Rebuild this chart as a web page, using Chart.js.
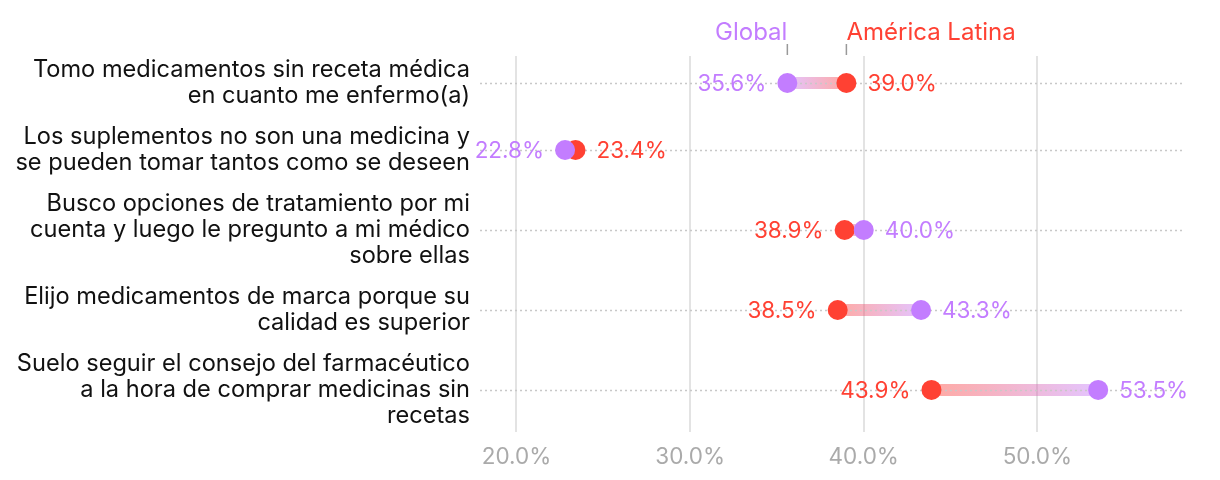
<!DOCTYPE html>
<html>
<head>
<meta charset="utf-8">
<script src="https://cdn.jsdelivr.net/npm/chart.js@4"></script>
<style>
  html, body { margin: 0; padding: 0; background: #fff; }
  #wrap { width: 1220px; height: 480px; }
</style>
</head>
<body>
<div id="wrap"><canvas id="grafico"></canvas></div>
<script>
// ================== DATOS ==================
const categorias = [
    ['Tomo medicamentos sin receta médica', 'en cuanto me enfermo(a)'],
    ['Los suplementos no son una medicina y', 'se pueden tomar tantos como se deseen'],
    ['Busco opciones de tratamiento por mi', 'cuenta y luego le pregunto a mi médico', 'sobre ellas'],
    ['Elijo medicamentos de marca porque su', 'calidad es superior'],
    ['Suelo seguir el consejo del farmacéutico', 'a la hora de comprar medicinas sin', 'recetas']
];
const valoresGlobal = [35.6, 22.8, 40.0, 43.3, 53.5];
const valoresLatam = [39.0, 23.4, 38.9, 38.5, 43.9];
const ticksX = [20, 30, 40, 50];

const MORADO = '#C37DFF';
const ROJO = '#FF4133';
const FUENTE = 'Inter, "Noto Sans", sans-serif';
const TAM = 22.5;
const TAM_ETIQ = 23.6;

// cada fila ocupa tantas lineas como su etiqueta, mas un hueco
const HUECO = 0.58;
const posFilas = [];
let acumulado = 0;
categorias.forEach(c => {
    const alto = c.length + HUECO;
    posFilas.push(acumulado + alto / 2);
    acumulado += alto;
});

// ================== PLUGINS ==================
// linea con degradado entre los dos puntos
const lineasPlugin = {
    id: 'lineas',
    beforeDatasetsDraw(chart) {
        const { ctx, scales: { x, y } } = chart;
        ctx.save();
        ctx.lineWidth = 12;
        valoresGlobal.forEach((g, i) => {
            const l = valoresLatam[i];
            const xg = x.getPixelForValue(g);
            const xl = x.getPixelForValue(l);
            const py = y.getPixelForValue(posFilas[i]);
            const grad = ctx.createLinearGradient(xl, 0, xg, 0);
            grad.addColorStop(0, 'rgba(255,65,51,0.45)');
            grad.addColorStop(1, 'rgba(195,125,255,0.45)');
            ctx.strokeStyle = grad;
            ctx.beginPath();
            ctx.moveTo(xl, py);
            ctx.lineTo(xg, py);
            ctx.stroke();
        });
        ctx.restore();
    },
    afterDatasetsDraw(chart) {
        const { ctx, scales: { x, y } } = chart;
        ctx.save();
        ctx.font = TAM + 'px ' + FUENTE;
        ctx.textBaseline = 'middle';
        valoresGlobal.forEach((g, i) => {
            const l = valoresLatam[i];
            const py = y.getPixelForValue(posFilas[i]) + 1;
            const globalIzq = g < l;
            // etiqueta global
            ctx.fillStyle = MORADO;
            ctx.textAlign = globalIzq ? 'right' : 'left';
            ctx.fillText(g.toFixed(1) + '%', x.getPixelForValue(g) + (globalIzq ? -21 : 21), py);
            // etiqueta latam
            ctx.fillStyle = ROJO;
            ctx.textAlign = globalIzq ? 'left' : 'right';
            ctx.fillText(l.toFixed(1) + '%', x.getPixelForValue(l) + (globalIzq ? 21 : -21), py);
        });

        // leyenda de arriba, pegada a la primera fila
        const xg0 = x.getPixelForValue(valoresGlobal[0]);
        const xl0 = x.getPixelForValue(valoresLatam[0]);
        ctx.strokeStyle = '#999';
        ctx.lineWidth = 1.5;
        ctx.beginPath();
        ctx.moveTo(xg0, 44); ctx.lineTo(xg0, 55);
        ctx.moveTo(xl0, 44); ctx.lineTo(xl0, 55);
        ctx.stroke();
        ctx.font = '24px ' + FUENTE;
        ctx.textBaseline = 'alphabetic';
        ctx.fillStyle = MORADO;
        ctx.textAlign = 'right';
        ctx.fillText('Global', xg0, 40);
        ctx.fillStyle = ROJO;
        ctx.textAlign = 'left';
        ctx.fillText('América Latina', xl0, 40);
        ctx.restore();
    }
};

// lineas punteadas horizontales por fila
const punteadoPlugin = {
    id: 'punteado',
    beforeDatasetsDraw(chart) {
        const { ctx, chartArea, scales: { y } } = chart;
        ctx.save();
        ctx.strokeStyle = '#c8c8c8';
        ctx.lineWidth = 1.5;
        ctx.setLineDash([2, 3]);
        posFilas.forEach(p => {
            const py = Math.round(y.getPixelForValue(p)) + 0.5;
            ctx.beginPath();
            ctx.moveTo(chartArea.left, py);
            ctx.lineTo(chartArea.right, py);
            ctx.stroke();
        });
        ctx.restore();
    }
};

// ================== GRÁFICO ==================
new Chart(document.getElementById('grafico'), {
    type: 'scatter',
    data: {
        datasets: [{
            label: 'Global',
            data: valoresGlobal.map((v, i) => ({ x: v, y: posFilas[i] })),
            backgroundColor: MORADO,
            borderWidth: 0,
            pointRadius: 10,
            pointHoverRadius: 10
        }, {
            label: 'América Latina',
            data: valoresLatam.map((v, i) => ({ x: v, y: posFilas[i] })),
            backgroundColor: ROJO,
            borderWidth: 0,
            pointRadius: 10,
            pointHoverRadius: 10
        }]
    },
    options: {
        responsive: true,
        maintainAspectRatio: false,
        animation: false,
        layout: { padding: { top: 56, right: 35, left: 0, bottom: 0 } },
        plugins: {
            legend: { display: false },
            tooltip: { enabled: false }
        },
        scales: {
            x: {
                type: 'linear',
                min: 17.9,
                max: 58.5,
                afterBuildTicks: scale => {
                    scale.ticks = ticksX.map(v => ({ value: v }));
                },
                afterFit: scale => { scale.height = 48; },
                border: { display: false },
                grid: { color: '#e3e3e3', lineWidth: 2, drawTicks: false },
                ticks: {
                    color: '#aaaaaa',
                    padding: 12,
                    font: { family: FUENTE, size: TAM },
                    callback: v => v.toFixed(1) + '%'
                }
            },
            y: {
                type: 'linear',
                reverse: true,
                min: 0.25,
                max: 14.73,
                afterBuildTicks: scale => {
                    scale.ticks = posFilas.map(p => ({ value: p }));
                },
                afterFit: scale => { scale.width = 480; },
                border: { display: false },
                grid: { display: false, drawTicks: false },
                ticks: {
                    color: '#111',
                    padding: 10,
                    font: { family: FUENTE, size: TAM_ETIQ, lineHeight: 26 / TAM_ETIQ },
                    callback: (v, i) => categorias[i]
                }
            }
        }
    },
    plugins: [lineasPlugin, punteadoPlugin]
});
</script>
</body>
</html>
